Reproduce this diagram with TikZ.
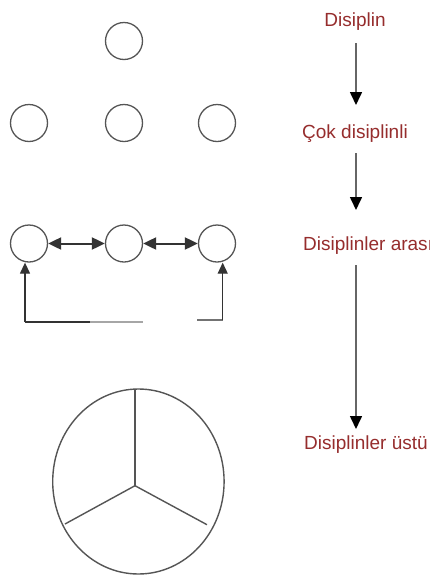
\documentclass[tikz,border=0pt]{standalone}
\usepackage{fontspec}
\setmainfont{Liberation Sans}
\usetikzlibrary{arrows.meta}
\definecolor{txtred}{RGB}{150,45,45}
\definecolor{linegray}{RGB}{85,85,85}
\tikzset{
  ring/.style={circle,draw=linegray,line width=1.3pt,minimum size=37pt,inner sep=0pt},
  lbl/.style={text=txtred,inner sep=0pt,font=\fontsize{19}{23}\selectfont},
  colarrow/.style={draw=linegray!90,line width=1.6pt,-{Triangle[length=13pt,width=12pt,fill=black,color=black]}},
  duo/.style={draw=black!80,line width=2pt,{Triangle[length=13pt,width=12pt]}-{Triangle[length=13pt,width=12pt]}},
  upar/.style={draw=black!80,line width=1.3pt,-{Triangle[length=11pt,width=10pt]}},
  plain/.style={draw=black!80,line width=1.3pt},
  pie/.style={draw=linegray,line width=1.4pt}
}
\begin{document}
\begin{tikzpicture}[x=1pt,y=-1pt]
\useasboundingbox[fill=white] (0,0) rectangle (430,579);
% left column: circles
\node[ring] (top) at (124,41) {};
\node[ring] (m1) at (29,123) {};
\node[ring] (m2) at (124,123) {};
\node[ring] (m3) at (217,123) {};
\node[ring] (i1) at (29,243.5) {};
\node[ring] (i2) at (124,243.5) {};
\node[ring] (i3) at (217,243.5) {};
\draw[duo] (i1) -- (i2);
\draw[duo] (i2) -- (i3);
% feedback connector
\coordinate (fbL) at (25,322);
\coordinate (fbM) at (90,322);
\coordinate (fbE) at (143,322);
\coordinate (fbR0) at (197,320);
\coordinate (fbR) at (222.7,320);
\draw[upar] (fbL) -- (i1.south -| fbL);
\draw[plain] (fbL) -- (fbM);
\draw[draw=black!35,line width=1.3pt] (fbM) -- (fbE);
\draw[draw=black!55,line width=1.3pt] (fbR0) -- (fbR);
\draw[upar] (fbR) -- (fbR |- i3.south);
% big ellipse with three spokes
\draw[pie] (138.4,481.5) ellipse [x radius=85.7pt, y radius=92.5pt];
\coordinate (hub) at (135,485.7);
\draw[pie] (hub) -- (135,389.2);
\draw[pie] (hub) -- (65,524);
\draw[pie] (hub) -- (207,524.7);
% right column: labels
\node[lbl,anchor=base] (t1) at (355,26.5) {Disiplin};
\node[lbl,anchor=base] (t2) at (355,138) {Çok disiplinli};
\node[lbl,anchor=base west] (t3) at (303,250) {Disiplinler arası};
\node[lbl,anchor=base west] (t4) at (304,449) {Disiplinler üstü};
\coordinate (a1s) at (356,43);
\coordinate (a1e) at (356,105);
\coordinate (a2s) at (356,153);
\coordinate (a2e) at (356,210);
\coordinate (a3s) at (356,265);
\coordinate (a3e) at (356,429);
\draw[colarrow] (a1s) -- (a1e);
\draw[colarrow] (a2s) -- (a2e);
\draw[colarrow] (a3s) -- (a3e);
\end{tikzpicture}
\end{document}
